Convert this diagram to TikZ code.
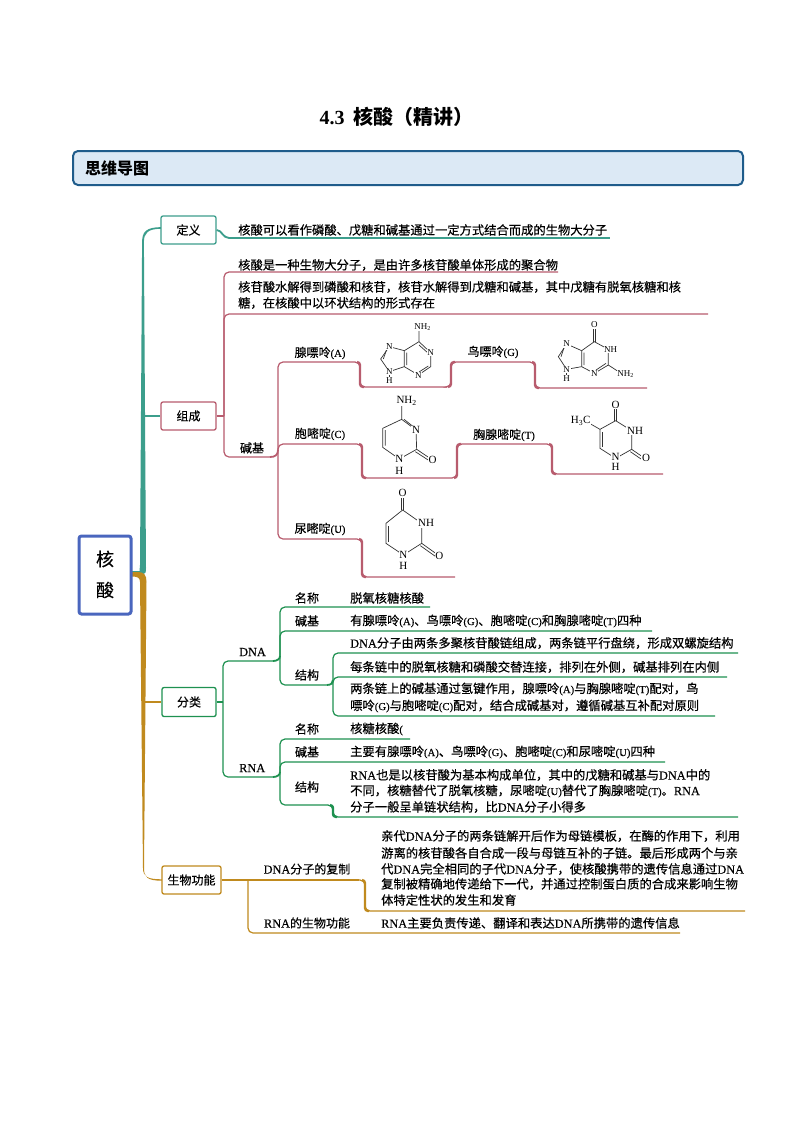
\documentclass[tikz,border=0pt]{standalone}
\usepackage{fontspec}
\usetikzlibrary{calc}
\setmainfont{Liberation Serif}
\newfontfamily\cjk[RawFeature={embolden=0.35}]{Noto Sans CJK SC}
\newfontfamily\cjkb{Noto Sans CJK SC}
\newfontfamily\latf[RawFeature={embolden=0.2}]{Liberation Serif}
\newfontfamily\latp{Liberation Serif}
\newcommand\ltn[1]{{\latf\fontsize{10.7}{12}\selectfont #1}}
\newcommand\ltb[1]{{\latf\fontsize{12.3}{12}\selectfont #1}}
\definecolor{tealc}{HTML}{3C9E8C}
\definecolor{redc}{HTML}{B85C6E}
\definecolor{greenc}{HTML}{1E9150}
\definecolor{orangec}{HTML}{C08A1E}
\definecolor{bluec}{HTML}{4A66BE}
\definecolor{bannerb}{HTML}{1F5C8B}
\definecolor{bannerf}{HTML}{DCE9F5}
\tikzset{
 txt/.style={anchor=west,inner sep=0pt,font=\cjk\fontsize{12.3}{14}\selectfont},
 ctr/.style={anchor=center,inner sep=0pt,font=\cjk\fontsize{12}{14}\selectfont},
 boxn/.style={draw,rounded corners=2pt,line width=1.3pt,fill=white,inner sep=0pt,font=\cjk\fontsize{12}{14}\selectfont,minimum height=28pt},
 lnt/.style={draw=tealc,line width=1.2pt,rounded corners=5pt},
 lnr/.style={draw=redc,line width=1.2pt,rounded corners=5pt},
 lng/.style={draw=greenc,line width=1.2pt,rounded corners=5pt},
 lno/.style={draw=orangec,line width=1.2pt,rounded corners=5pt},
 bond/.style={draw=black!80,line width=.7pt},
 atoms/.style={fill=white,inner sep=.6pt,font=\latp\fontsize{9}{9}\selectfont},
 atomb/.style={fill=white,inner sep=.6pt,font=\latp\fontsize{11}{11}\selectfont},
}
% step connector: start, turning point, end, style
\newcommand\stepl[4]{%
 \draw[#4] (#1) -| (#2) |- (#3);
 \draw[#4,line width=2.3pt,rounded corners=3pt] ($(#1 -| #2)+(-3,0)$) -| (#2) |- ($(#3 -| #2)+(4,0)$);}
\begin{document}
\begin{tikzpicture}[x=1pt,y=-1pt]
\useasboundingbox (0,0) rectangle (800,1132);
\fill[white] (0,0) rectangle (800,1132);
% title
\node[anchor=center,inner sep=0pt] (title) at (396.5,117) {{\latp\bfseries\fontsize{20}{20}\selectfont 4.3}\hspace{9pt}{\cjkb\bfseries\fontsize{20}{20}\selectfont 核酸（精讲）}};
% banner
\node[draw=bannerb,fill=bannerf,line width=2pt,rounded corners=5pt,minimum width=670pt,minimum height=34pt,inner sep=0pt] (banner) at (408,168) {};
\node[anchor=west,inner sep=0pt,font=\cjkb\bfseries\fontsize{16}{16}\selectfont] (bannert) at (85,168) {思维导图};
% trunks
\fill[tealc] (132,574) -- (142,574) .. controls (146,574) and (146,572) .. (146,568) -- (143.9,242) .. controls (143.9,233) and (148,228.8) .. (161,228.8) -- (161,227.2) .. controls (146,227.2) and (142.1,232) .. (142.1,242) -- (140,565) -- (139.5,571) -- (132,571) -- cycle;
\fill[orangec] (132,572) -- (138,572) .. controls (144,572) and (146.5,575) .. (146.5,582) -- (144,868) .. controls (144,877) and (147,880.7) .. (162,880.7) -- (162,879.3) .. controls (148,879.3) and (143,877) .. (143,868) -- (140,582) .. controls (140,578) and (138,576.5) .. (132,576.5) -- cycle;
% root
\node[draw=bluec,fill=white,line width=3pt,rounded corners=2.5pt,minimum width=52pt,minimum height=78pt,inner sep=0pt] (root) at (105,575) {};
\node[inner sep=0pt,font=\cjk\fontsize{18}{18}\selectfont] (rt1) at (105,559) {核};
\node[inner sep=0pt,font=\cjk\fontsize{18}{18}\selectfont] (rt2) at (105,590) {酸};
% first level
\node[boxn,draw=tealc,minimum width=55pt] (def) at (188.5,230) {定义};
\node[boxn,draw=redc,minimum width=55pt] (comp) at (188.5,416) {组成};
\node[boxn,draw=greenc,minimum width=54pt,minimum height=29pt] (class) at (189,702) {分类};
\node[boxn,draw=orangec,minimum width=59pt] (func) at (191.5,880) {生物功能};
\coordinate (tc) at (143,416);
\coordinate (oc) at (143,702);
\draw[lnt] (tc) -- (comp.west);
\draw[lno] (oc) -- (class.west);
% definition
\node[txt] (t1) at (238,230) {核酸可以看作磷酸、戊糖和碱基通过一定方式结合而成的生物大分子};
\coordinate (d1) at (229,238);
\coordinate (d2) at (610,238);
\draw[tealc,line width=1.8pt] (def.east) .. controls +(5,0) and +(-6,0) .. (d1);
\draw[lnt] (d1) -- (d2);
% composition
\node[txt] (t2) at (238,265) {核酸是一种生物大分子，是由许多核苷酸单体形成的聚合物};
\node[txt] (t3a) at (238,287) {核苷酸水解得到磷酸和核苷，核苷水解得到戊糖和碱基，其中戊糖有脱氧核糖和核};
\node[txt] (t3b) at (238,303) {糖，在核酸中以环状结构的形式存在};
\coordinate (rj) at (224,416);
\coordinate (r1) at (558,272);
\coordinate (r2) at (708,314);
\coordinate (r3) at (270,457);
\coordinate (rk) at (278,450);
\draw[redc,line width=1.8pt] (comp.east) -- (rj);
\draw[lnr] (r1) -| (rj);
\draw[lnr] (r2) -| (rj);
\draw[lnr] (r3) -| (rj);
\node[ctr] (base) at (252,448) {碱基};
\draw[redc,line width=1.8pt] (r3) .. controls +(5,0) and +(0,5) .. (rk);
% purines etc
\coordinate (ra) at (355,362);
\coordinate (rc) at (355,444);
\coordinate (ru) at (355,539);
\draw[lnr] (ra) -| (rk);
\draw[lnr] (rc) -| (rk);
\draw[lnr] (ru) -| (rk);
\node[ctr] (la) at (320,353) {腺嘌呤\ltn{(A)}};
\node[ctr] (lc) at (320,434) {胞嘧啶\ltn{(C)}};
\node[ctr] (lu) at (320,529) {尿嘧啶\ltn{(U)}};
\node[ctr] (lg) at (493,352) {鸟嘌呤\ltn{(G)}};
\node[ctr] (lt) at (504,435) {胸腺嘧啶\ltn{(T)}};
\coordinate (a1) at (360,375); \coordinate (a2) at (447,387);
\coordinate (a3) at (451,375); \coordinate (a4) at (530,362);
\coordinate (a5) at (535,375); \coordinate (a6) at (647,388);
\stepl{ra}{a1}{a2}{lnr}
\stepl{a2}{a3}{a4}{lnr}
\stepl{a4}{a5}{a6}{lnr}
\coordinate (c1) at (362,460); \coordinate (c2) at (452,478);
\coordinate (c3) at (457,460); \coordinate (c4) at (547,444);
\coordinate (c5) at (552,460); \coordinate (c6) at (663,474);
\stepl{rc}{c1}{c2}{lnr}
\stepl{c2}{c3}{c4}{lnr}
\stepl{c4}{c5}{c6}{lnr}
\coordinate (u1) at (362,560); \coordinate (u2) at (455,577);
\stepl{ru}{u1}{u2}{lnr}
% chemical structures
\begin{scope}[shift={(220pt,-310pt)},x=.33333pt,y=-.33333pt]
% adenine
\draw[bond] (597,60) -- (597,95) -- (632,128) -- (632,170) -- (595,195) -- (553,170) -- (553,122) -- (597,95);
\draw[bond] (597,105) -- (625,130) (625,168) -- (597,186) (560,165) -- (560,128);
\draw[bond] (553,122) -- (508,110) -- (482,147) -- (508,185) -- (553,170);
\draw[bond] (500,118) -- (490,147) ;
\draw[bond] (508,185) -- (508,205);
\node[atoms] (aN) at (608,52) {NH\textsubscript{2}};
\node[atoms] at (632,128) {N};
\node[atoms] at (595,198) {N};
\node[atoms] at (508,110) {N};
\node[atoms] at (508,185) {N};
\node[atoms] at (508,212) {H};
% guanine
\draw[bond] (1120,55) -- (1120,95) (1126,55) -- (1126,95);
\draw[bond] (1123,95) -- (1165,118) -- (1165,165) -- (1123,190) -- (1085,170) -- (1085,122) -- (1123,95);
\draw[bond] (1158,160) -- (1128,180) (1092,165) -- (1092,128);
\draw[bond] (1165,165) -- (1200,188);
\draw[bond] (1085,122) -- (1040,102) -- (1015,140) -- (1040,178) -- (1085,170);
\draw[bond] (1033,110) -- (1023,140);
\draw[bond] (1040,178) -- (1040,200);
\node[atoms] at (1123,45) {O};
\node[atoms] at (1172,118) {NH};
\node[atoms] at (1123,192) {N};
\node[atoms] at (1217,192) {NH\textsubscript{2}};
\node[atoms] at (1040,102) {N};
\node[atoms] at (1040,178) {N};
\node[atoms] at (1040,207) {H};
% cytosine
\draw[bond] (545,285) -- (545,328) -- (588,360) -- (590,418) -- (538,447) -- (488,412) -- (488,355) -- (545,328);
\draw[bond] (552,328) -- (580,350) (496,407) -- (496,360);
\draw[bond] (590,418) -- (630,445) (586,425) -- (626,451);
\node[atomb] at (560,272) {NH\textsubscript{2}};
\node[atomb] at (588,360) {N};
\node[atomb] at (538,447) {N};
\node[atomb] at (538,482) {H};
\node[atomb] at (638,450) {O};
% thymine
\draw[bond] (1184,295) -- (1184,332) (1190,295) -- (1190,332);
\draw[bond] (1187,332) -- (1235,362) -- (1235,418) -- (1187,445) -- (1140,415) -- (1140,358) -- (1187,332);
\draw[bond] (1148,410) -- (1148,365);
\draw[bond] (1235,418) -- (1270,442) (1231,425) -- (1266,449);
\draw[bond] (1140,358) -- (1105,338);
\node[atomb] at (1187,285) {O};
\node[atomb] at (1245,362) {NH};
\node[atomb] at (1278,445) {O};
\node[atomb] at (1187,442) {N};
\node[atomb] at (1187,470) {H};
\node[atomb] at (1082,333) {H\textsubscript{3}C};
% uracil
\draw[bond] (545,560) -- (545,600) (551,560) -- (551,600);
\draw[bond] (548,600) -- (605,640) -- (605,700) -- (550,735) -- (498,700) -- (498,640) -- (548,600);
\draw[bond] (506,695) -- (506,648);
\draw[bond] (605,700) -- (650,732) (601,707) -- (646,739);
\node[atomb] at (548,550) {O};
\node[atomb] at (618,640) {NH};
\node[atomb] at (658,737) {O};
\node[atomb] at (550,735) {N};
\node[atomb] at (550,767) {H};
\end{scope}
% classification
\coordinate (gj) at (223,702);
\coordinate (gd) at (273,661);
\coordinate (gr) at (273,777);
\draw[greenc,line width=1.8pt] (class.east) -- (gj);
\draw[lng] (gd) -| (gj);
\draw[lng] (gr) -| (gj);
\node[txt] (dna) at (239,652) {\ltb{DNA}};
\node[txt] (rna) at (239,768) {\ltb{RNA}};
% DNA
\coordinate (dj) at (280,656);
\draw[greenc,line width=1.8pt] (gd) .. controls +(4,0) and +(0,3) .. (dj);
\coordinate (d11) at (430,607);
\coordinate (d12) at (652,631);
\coordinate (d13) at (327,685);
\draw[lng] (d11) -| (dj);
\draw[lng] (d12) -| (dj);
\draw[lng] (d13) -| (dj);
\coordinate (d2j) at (333,680);
\draw[greenc,line width=1.8pt] (d13) .. controls +(4,0) and +(0,3) .. (d2j);
\coordinate (d21) at (738,653);
\coordinate (d22) at (727,677);
\coordinate (d23) at (715,716);
\draw[lng] (d21) -| (d2j);
\draw[lng] (d22) -| (d2j);
\draw[lng] (d23) -| (d2j);
\node[ctr] (n1) at (307,598) {名称};
\node[ctr] (n2) at (307,621) {碱基};
\node[ctr] (n3) at (307,675) {结构};
\node[txt] (x1) at (350,598) {脱氧核糖核酸};
\node[txt] (x2) at (350,621) {有腺嘌呤\ltn{(A)}、鸟嘌呤\ltn{(G)}、胞嘧啶\ltn{(C)}和胸腺嘧啶\ltn{(T)}四种};
\node[txt] (x3) at (350,643) {\ltb{DNA}分子由两条多聚核苷酸链组成，两条链平行盘绕，形成双螺旋结构};
\node[txt] (x4) at (350,667) {每条链中的脱氧核糖和磷酸交替连接，排列在外侧，碱基排列在内侧};
\node[txt] (x5) at (350,689) {两条链上的碱基通过氢键作用，腺嘌呤\ltn{(A)}与胸腺嘧啶\ltn{(T)}配对，鸟};
\node[txt] (x6) at (350,706) {嘌呤\ltn{(G)}与胞嘧啶\ltn{(C)}配对，结合成碱基对，遵循碱基互补配对原则};
% RNA
\coordinate (rnj) at (280,772);
\draw[greenc,line width=1.8pt] (gr) .. controls +(4,0) and +(0,3) .. (rnj);
\coordinate (e11) at (410,739);
\coordinate (e12) at (665,762);
\coordinate (e13) at (327,805);
\draw[lng] (e11) -| (rnj);
\draw[lng] (e12) -| (rnj);
\draw[lng] (e13) -| (rnj);
\coordinate (e14) at (333,811);
\coordinate (e15) at (738,817);
\stepl{e13}{e14}{e15}{lng}
\node[ctr] (m1) at (307,729) {名称};
\node[ctr] (m2) at (307,752) {碱基};
\node[ctr] (m3) at (307,787) {结构};
\node[txt] (y1) at (350,729) {核糖核酸\ltn{(}};
\node[txt] (y2) at (350,752) {主要有腺嘌呤\ltn{(A)}、鸟嘌呤\ltn{(G)}、胞嘧啶\ltn{(C)}和尿嘧啶\ltn{(U)}四种};
\node[txt] (y3) at (350,775) {\ltb{RNA}也是以核苷酸为基本构成单位，其中的戊糖和碱基与\ltb{DNA}中的};
\node[txt] (y4) at (350,791) {不同，核糖替代了脱氧核糖，尿嘧啶\ltn{(U)}替代了胸腺嘧啶\ltn{(T)}。\ltb{RNA}};
\node[txt] (y5) at (350,807) {分子一般呈单链状结构，比\ltb{DNA}分子小得多};
% function
\coordinate (fj) at (248,880);
\coordinate (fi) at (238,880);
\coordinate (f1) at (359,880);
\coordinate (f2) at (365,895);
\coordinate (f3) at (745,911);
\coordinate (f4) at (680,933);
\draw[lno] (func.east) -- (fj);
\draw[orangec,line width=2.2pt] (fi) -- (fj);
\draw[lno] (fj) -- (f1);
\stepl{f1}{f2}{f3}{lno}
\draw[lno] (f4) -| (fj);
\node[ctr] (k1) at (307,869) {\ltb{DNA}分子的复制};
\node[ctr] (k2) at (307,923) {\ltb{RNA}的生物功能};
\node[txt] (z1) at (381,836) {亲代\ltb{DNA}分子的两条链解开后作为母链模板，在酶的作用下，利用};
\node[txt] (z2) at (381,853) {游离的核苷酸各自合成一段与母链互补的子链。最后形成两个与亲};
\node[txt] (z3) at (381,869) {代\ltb{DNA}完全相同的子代\ltb{DNA}分子，使核酸携带的遗传信息通过\ltb{DNA}};
\node[txt] (z4) at (381,884) {复制被精确地传递给下一代，并通过控制蛋白质的合成来影响生物};
\node[txt] (z5) at (381,900) {体特定性状的发生和发育};
\node[txt] (z6) at (381,923) {\ltb{RNA}主要负责传递、翻译和表达\ltb{DNA}所携带的遗传信息};
\end{tikzpicture}
\end{document}
